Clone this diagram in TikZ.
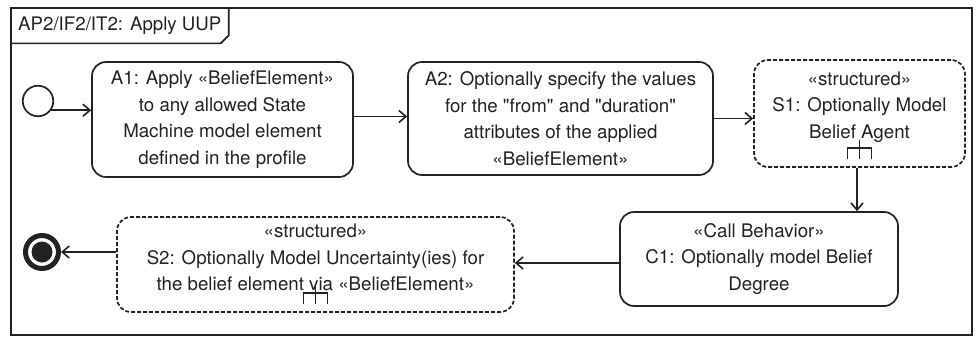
\documentclass[tikz,border=0pt]{standalone}
\usepackage{fontspec}
\setmainfont{TeX Gyre Heros}
\usetikzlibrary{arrows.meta, positioning, calc}
\definecolor{umlInk}{RGB}{34,34,34}

\begin{document}
\begin{tikzpicture}[x=1pt,y=-1pt,
  font=\fontsize{18.7}{26.5}\selectfont, color=umlInk,
  act/.style={draw=umlInk,rounded corners=14pt,align=center,
              inner sep=0pt,line width=1.7pt},
  sact/.style={act,dash pattern=on 4pt off 2pt},
  flow/.style={draw=umlInk,line width=1.6pt,
               -{Straight Barb[length=7pt,width=12pt]}},
  rake/.pic={\draw[line width=1.7pt] (-12,0) -- (-12,-11) -- (12,-11) -- (12,0);
             \draw[line width=1.7pt] (0,0) -- (0,-19);}]

\useasboundingbox (0,0) rectangle (976,337);

% frame and its name tab
\draw[line width=1.7pt] (11,8) rectangle (972,335);
\node[anchor=north west,inner xsep=7pt,inner ysep=0pt,minimum height=35pt]
   (frmlbl) at (11,8) {AP2/IF2/IT2: Apply UUP};
\draw[line width=1.7pt] (frmlbl.south west) -- ([xshift=-8pt]frmlbl.south east)
   -- ([yshift=8pt]frmlbl.south east) -- (frmlbl.north east);

% start and end
\node[circle,draw,line width=1.7pt,minimum size=30.5pt,inner sep=0pt]
   (init) at (38,101) {};
\node[circle,draw,line width=5pt,minimum size=33pt,inner sep=0pt,
      path picture={\fill (path picture bounding box.center) circle (10.5pt);}]
   (fin) at (42,252) {};

% actions, upper row
\node[act,minimum width=261pt,minimum height=115pt] (A1) at (222.5,119.5)
   {A1: Apply «BeliefElement»\\ to any allowed State\\
    Machine model element\\ defined in the profile};
\node[act,minimum width=305pt,minimum height=113pt] (A2) at (560.5,118.5)
   {A2: Optionally specify the values\\
    for the \textquotedbl from\textquotedbl{} and \textquotedbl duration\textquotedbl\\
    attributes of the applied\\ «BeliefElement»};
\node[sact,minimum width=211pt,minimum height=107pt] (S1) at (859.5,113.5) {};
\node[align=center,inner sep=0pt] (S1txt) at ([yshift=6.5pt]S1.center)
   {«structured»\\ S1: Optionally Model\\ Belief Agent};
\pic at ([yshift=9pt]S1.south) {rake};

% actions, lower row
\node[act,minimum width=278pt,minimum height=94pt] (C1) at (759,259)
   {«Call Behavior»\\ C1: Optionally model Belief\\ Degree};
\node[sact,minimum width=397pt,minimum height=95pt] (S2) at (315.5,264.5) {};
\node[align=center,inner sep=0pt] (S2txt) at ([yshift=7pt]S2.center)
   {«structured»\\ S2: Optionally Model Uncertainty(ies) for\\
    the belief element via «BeliefElement»};
\pic at ([yshift=9pt]S2.south) {rake};

% control flows
\draw[flow] (init.-35) -- (init.-35 -| A1.west);
\draw[flow] ([yshift=3pt]A1.east) -- ([yshift=3pt]A1.east -| A2.west);
\draw[flow] (A2.east) -- (A2.east -| S1.west);
\draw[flow] ([xshift=-2.5pt]S1.south) -- ([xshift=-2.5pt]S1.south |- C1.north);
\draw[flow] ([yshift=-4pt]C1.west) -- ([yshift=-4pt]C1.west -| S2.east);
\draw[flow] (fin -| S2.west) -- (fin.east);
\end{tikzpicture}
\end{document}
